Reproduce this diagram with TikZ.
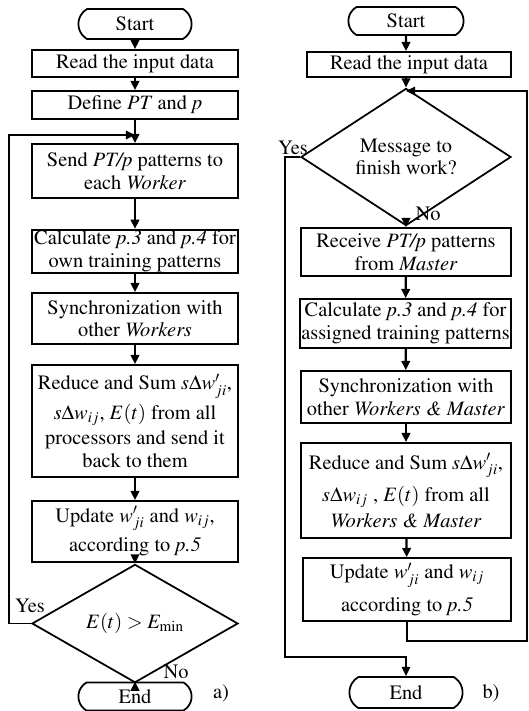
\documentclass[tikz,border=0pt]{standalone}
\usepackage[T1]{fontenc}
\usepackage{mathptmx}
\usetikzlibrary{arrows.meta, shapes.geometric, shapes.misc}

\begin{document}
\begin{tikzpicture}[x=0.025cm, y=-0.025cm,
    font=\rmfamily\fontsize{14.5}{16}\selectfont,
    box/.style={draw, line width=1.25pt, rectangle, align=center,
                inner sep=1pt, minimum width=5.15cm},
    term/.style={draw, line width=1.25pt, rounded rectangle,
                 rounded rectangle arc length=120, inner sep=1pt,
                 minimum width=2.9cm},
    cond/.style={draw, line width=1.25pt, diamond, align=center, inner sep=0pt},
    flow/.style={line width=1.6pt, -{Triangle[length=6.5pt, width=6pt]}},
    back/.style={line width=1.25pt, -{Triangle[length=6.5pt, width=6pt]}},
    lbl/.style={inner sep=0pt}]

\useasboundingbox (0,0) rectangle (528,711);

% a) Master
\node[term, minimum height=0.75cm] (startA) at (135,24) {Start};
\node[box, minimum height=0.675cm] (readA) at (135,63.5) {Read the input data};
\node[box, minimum height=0.7cm] (defA) at (135,105) {Define \textit{PT} and \textit{p}};
\node[box, minimum height=1.35cm] (sendA) at (135,171)
    {Send \textit{PT/p} patterns to\\ each \textit{Worker}};
\node[box, minimum height=1.075cm] (calcA) at (135,251.5)
    {Calculate \textit{p.3} and \textit{p.4} for\\ own training patterns};
\node[box, minimum height=1.275cm] (syncA) at (135,318.5)
    {Synchronization with\\ other \textit{Workers}};
\node[box, minimum height=2.8cm] (redA) at (135,421)
    {Reduce and Sum $s\Delta w'_{ji}$,\\[3pt] $s\Delta w_{ij}$, $E(t)$ from all\\[2pt]
     processors and send it\\ back to them};
\node[box, minimum height=1.525cm] (updA) at (135,531.5)
    {Update $w'_{ji}$ and $w_{ij}$,\\[4pt] according to \textit{p.5}};
\node[cond, minimum width=5.15cm, minimum height=1.8cm] (decA) at (135,623.5)
    {$E(t) > E_{\min}$};
\node[term, minimum height=0.7cm] (endA) at (135,696.5) {End};

\coordinate (joinA) at (135,135);
\coordinate (cornerA) at (9,623.5);

\draw[flow] (startA) -- (readA);
\draw[flow] (readA) -- (defA);
\draw[flow] (defA) -- (sendA);
\draw[flow] (sendA) -- (calcA);
\draw[flow] (calcA) -- (syncA);
\draw[flow] (syncA) -- (redA);
\draw[flow] (redA) -- (updA);
\draw[flow] (updA) -- (decA);
\draw[flow] (decA) -- (endA);
\draw[back] (decA.west) -- (cornerA) |- (joinA);

\node[lbl] (yesA) at (30,606) {Yes};
\node[lbl] (noA) at (176,672) {No};
\node[lbl] (tagA) at (221,693) {a)};

% b) Worker
\node[term, minimum height=0.7cm, minimum width=2.95cm] (startB) at (406,21) {Start};
\node[box, minimum height=0.625cm, minimum width=5.1cm] (readB) at (409,64.5) {Read the input data};
\node[cond, minimum width=5.25cm, minimum height=2.5cm] (decB) at (406,157)
    {Message to\\ finish work?};
\node[box, minimum height=1.2cm, minimum width=5.25cm] (recB) at (406,252)
    {Receive \textit{PT/p} patterns\\ from \textit{Master}};
\node[box, minimum height=1.225cm, minimum width=5.275cm] (calcB) at (405.5,323.5)
    {Calculate \textit{p.3} and \textit{p.4} for\\ assigned training patterns};
\node[box, minimum height=1.3cm, minimum width=5.25cm] (syncB) at (406,397)
    {Synchronization with\\ other \textit{Workers \& Master}};
\node[box, minimum height=2.375cm, minimum width=5.25cm] (redB) at (406,490.5)
    {Reduce and Sum $s\Delta w'_{ji}$,\\[5pt] $s\Delta w_{ij}$ , $E(t)$ from all\\[2pt]
     \textit{Workers \& Master}};
\node[box, minimum height=1.575cm, minimum width=5.2cm] (updB) at (407,589.5)
    {Update $w'_{ji}$ and $w_{ij}$\\[6pt] according to \textit{p.5}};
\node[term, minimum height=0.775cm, minimum width=2.9cm] (endB) at (406,692.5) {End};

\coordinate (joinB) at (406,91);
\coordinate (cornerB) at (527,641);
\coordinate (turnB) at (285,657);

\draw[flow] (startB) -- (startB |- readB.north);
\draw[flow] (decB.north |- readB.south) -- (decB);
\draw[flow] (decB) -- (recB);
\draw[flow] (recB) -- (calcB);
\draw[flow] (calcB) -- (syncB);
\draw[flow] (syncB) -- (redB);
\draw[flow] (redB) -- (updB);
\draw[back] (updB.south) |- (cornerB) |- (joinB);
\draw[back] (decB.west) -| (turnB) -| (endB.north);

\node[lbl] (yesB) at (293,148) {Yes};
\node[lbl] (noB) at (428,214) {No};
\node[lbl] (tagB) at (491,693) {b)};

\end{tikzpicture}
\end{document}
